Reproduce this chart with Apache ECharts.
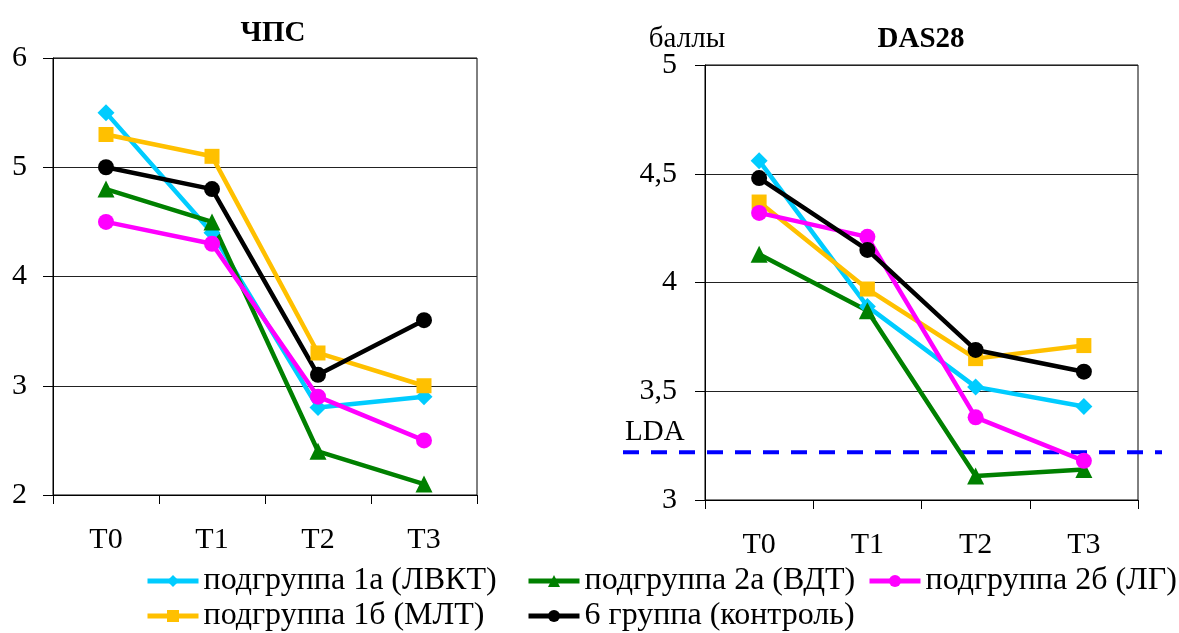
<!DOCTYPE html>
<html>
<head>
<meta charset="utf-8">
<script src="https://cdn.jsdelivr.net/npm/echarts@6/dist/echarts.min.js"></script>
<style>
  html, body { margin: 0; padding: 0; background: #fff; }
  #chart { width: 1179px; height: 633px; }
</style>
</head>
<body>
<div id="chart"></div>
<script>
// категории (точки наблюдения)
var periods = ['T0', 'T1', 'T2', 'T3'];

// ЧПС
var chps1a = [5.5, 4.4, 2.8, 2.9];
var chps1b = [5.3, 5.1, 3.3, 3.0];
var chps2a = [4.8, 4.5, 2.4, 2.1];
var chps2b = [4.5, 4.3, 2.9, 2.5];
var chpsControl = [5.0, 4.8, 3.1, 3.6];

// DAS28
var das1a = [4.56, 3.89, 3.52, 3.43];
var das1b = [4.37, 3.97, 3.65, 3.71];
var das2a = [4.13, 3.87, 3.11, 3.14];
var das2b = [4.32, 4.21, 3.38, 3.18];
var dasControl = [4.48, 4.15, 3.69, 3.59];

// порог LDA
var ldaLevel = [[0, 3.22], [1, 3.22]];

var names = ['подгруппа 1а (ЛВКТ)', 'подгруппа 1б (МЛТ)', 'подгруппа 2а (ВДТ)', 'подгруппа 2б (ЛГ)', '6 группа (контроль)'];
var colors = ['#00CCFF', '#FFC000', '#008000', '#FF00FF', '#000000'];
var symbols = ['diamond', 'rect', 'triangle', 'circle', 'circle'];
var sizes = [17, 15, 17, 16, 16];

var font = 'Liberation Serif';

function makeSeries(dataSets, gridIdx) {
  return dataSets.map(function (d, i) {
    return {
      name: names[i],
      type: 'line',
      xAxisIndex: gridIdx,
      yAxisIndex: gridIdx,
      data: d,
      symbol: symbols[i],
      symbolSize: sizes[i],
      color: colors[i],
      lineStyle: {width: 4.5, color: colors[i]},
      itemStyle: {color: colors[i]},
      emphasis: {disabled: true},
      animation: false
    };
  });
}

function catAxis(gridIdx) {
  return {
    type: 'category',
    gridIndex: gridIdx,
    data: periods,
    boundaryGap: true,
    axisLine: {lineStyle: {color: '#000', width: 1}},
    axisTick: {show: true, length: 9, lineStyle: {color: '#000'}},
    axisLabel: {color: '#000', fontFamily: font, fontSize: 30, margin: 30},
    splitLine: {show: false}
  };
}

function valAxis(gridIdx, min, max, step, margin) {
  return {
    type: 'value',
    gridIndex: gridIdx,
    min: min,
    max: max,
    interval: step,
    axisLine: {show: true, lineStyle: {color: '#000', width: 1}},
    axisTick: {show: true, length: 10, lineStyle: {color: '#000'}},
    axisLabel: {
      color: '#000', fontFamily: font, fontSize: 30, margin: margin,
      formatter: function (v) { return String(v).replace('.', ','); }
    },
    splitLine: {show: true, lineStyle: {color: '#222', width: 1}}
  };
}

// одна легенда на каждый элемент, как в исходной раскладке (3 + 2)
function legendItem(name, left, top) {
  return {
    left: left,
    top: top,
    data: [name],
    itemWidth: 51,
    itemHeight: 15,
    lineStyle: {width: 5},
    textStyle: {color: '#000', fontFamily: font, fontSize: 32}
  };
}

var myChart = echarts.init(document.getElementById('chart'));
myChart.setOption({
  animation: false,
  title: [
    {text: 'ЧПС', left: 268, top: 14, textAlign: 'center',
      textStyle: {fontFamily: font, fontSize: 29, fontWeight: 'bold', color: '#000'}},
    {text: 'DAS28', left: 916, top: 20, textAlign: 'center',
      textStyle: {fontFamily: font, fontSize: 29, fontWeight: 'bold', color: '#000'}},
    {text: 'баллы', left: 682, top: 20, textAlign: 'center',
      textStyle: {fontFamily: font, fontSize: 29, fontWeight: 'normal', color: '#000'}}
  ],
  graphic: [
    {type: 'text', left: 625, top: 418,
      style: {text: 'LDA', font: '29px "Liberation Serif"', fill: '#000'}}
  ],
  legend: [
    legendItem(names[0], 140, 560),
    legendItem(names[2], 521, 560),
    legendItem(names[3], 862, 560),
    legendItem(names[1], 140, 595),
    legendItem(names[4], 521, 595)
  ],
  grid: [
    {left: 53, right: 702, top: 58, bottom: 138, show: true, borderColor: '#000', borderWidth: 1},
    {left: 705, right: 41, top: 65, bottom: 133, show: true, borderColor: '#000', borderWidth: 1},
    // сетка для линии LDA, выходящей за пределы области построения
    {left: 623, right: 17, top: 65, bottom: 133, show: false}
  ],
  xAxis: [
    catAxis(0),
    catAxis(1),
    {type: 'value', gridIndex: 2, min: 0, max: 1, show: false}
  ],
  yAxis: [
    valAxis(0, 2, 6, 1, 26),
    valAxis(1, 3, 5, 0.5, 28),
    {type: 'value', gridIndex: 2, min: 3, max: 5, show: false}
  ],
  series: makeSeries([chps1a, chps1b, chps2a, chps2b, chpsControl], 0)
    .concat(makeSeries([das1a, das1b, das2a, das2b, dasControl], 1))
    .concat([{
      name: 'LDA',
      type: 'line',
      xAxisIndex: 2,
      yAxisIndex: 2,
      data: ldaLevel,
      symbol: 'none',
      lineStyle: {width: 4, color: '#0000FF', type: [16, 12]},
      emphasis: {disabled: true},
      silent: true,
      z: 1
    }])
});
</script>
</body>
</html>
